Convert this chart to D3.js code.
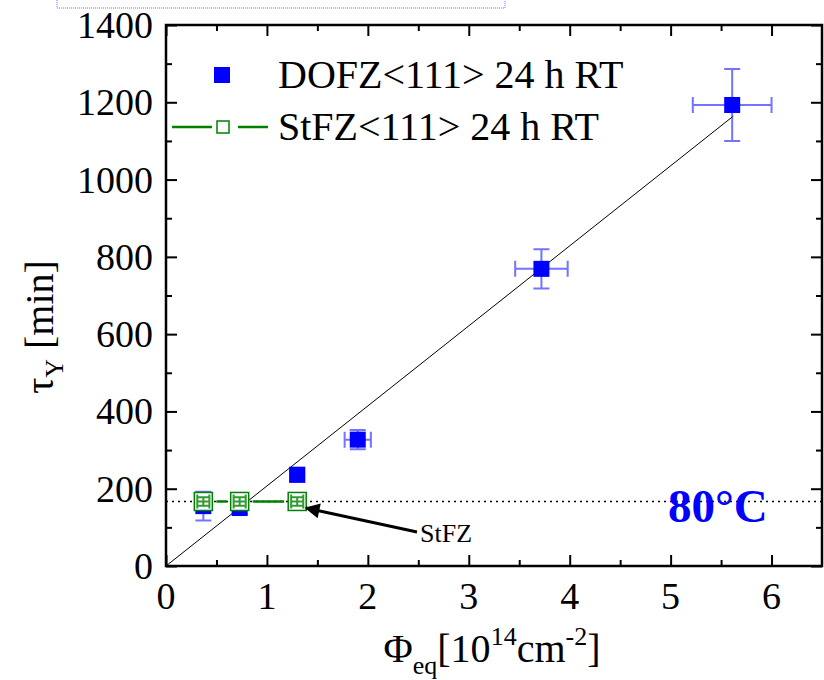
<!DOCTYPE html>
<html>
<head>
<meta charset="utf-8">
<script src="https://cdn.jsdelivr.net/npm/d3@7"></script>
<style>
  html, body { margin: 0; padding: 0; background: #fff; }
  svg { display: block; font-family: "Liberation Serif", "DejaVu Serif", serif; }
</style>
</head>
<body>
<script>
// DOFZ<111> 24 h RT (filled squares)
const dofzX    = [0.37, 0.73, 1.30, 1.90, 3.72, 5.61];
const dofzY    = [155, 150, 236, 327, 769, 1193];
const dofzXErr = [0.05, 0.05, 0.07, 0.13, 0.26, 0.39];
const dofzYErr = [37, 15, 18, 25, 51, 93];

// StFZ<111> 24 h RT (open squares)
const stfzX    = [0.37, 0.73, 1.30];
const stfzY    = [167, 167, 167];
const stfzXErr = [0.06, 0.06, 0.06];
const stfzYErr = [11, 11, 11];

// linear fit through the DOFZ points
const fitX = [0, 5.62];
const fitY = [0, 1164];

const refLevel = 167;   // dotted 80°C level
const xTicks = [0, 1, 2, 3, 4, 5, 6];
const yTicks = [0, 200, 400, 600, 800, 1000, 1200, 1400];

const width = 824, height = 680;
const margins = {left: 166, right: 2, top: 25, bottom: 114};
const blue = '#0000ff', green = '#008000', errBlue = 'rgba(40,40,255,0.65)';

let svg = d3.select('body').append('svg')
    .attr('width', width)
    .attr('height', height);

let xScale = d3.scaleLinear().domain([0, 6.5]).range([margins.left, width - margins.right]);
let yScale = d3.scaleLinear().domain([0, 1400]).range([height - margins.bottom, margins.top]);

// dotted blue box clipped at the top
svg.append('path')
    .attr('d', 'M57,-2 V8 H505 V-2')
    .attr('fill', 'none')
    .attr('stroke', '#7070ff')
    .attr('stroke-width', 1)
    .attr('stroke-dasharray', '1,1');

// axes: ticks inward on all four sides
const x0 = xScale(0), x1 = xScale(6.5), y0 = yScale(0), y1 = yScale(1400);
const minorX = d3.range(0.5, 6.5, 1), minorY = d3.range(100, 1400, 200);

function tickAxis(axis, pos, ticks, len){
    svg.append('g').call(axis.tickValues(ticks).tickSize(len).tickFormat(''))
        .attr('transform', pos)
        .call(g => g.select('.domain').remove())
        .selectAll('line').attr('stroke', '#000').attr('stroke-width', 2);
}
tickAxis(d3.axisTop(xScale), `translate(0,${y0})`, xTicks, 11);
tickAxis(d3.axisTop(xScale), `translate(0,${y0})`, minorX, 6);
tickAxis(d3.axisBottom(xScale), `translate(0,${y1})`, xTicks, 11);
tickAxis(d3.axisBottom(xScale), `translate(0,${y1})`, minorX, 6);
tickAxis(d3.axisRight(yScale), `translate(${x0},0)`, yTicks, 11);
tickAxis(d3.axisRight(yScale), `translate(${x0},0)`, minorY, 6);
tickAxis(d3.axisLeft(yScale), `translate(${x1},0)`, yTicks, 11);
tickAxis(d3.axisLeft(yScale), `translate(${x1},0)`, minorY, 6);

svg.append('rect')
    .attr('x', x0).attr('y', y1)
    .attr('width', x1 - x0).attr('height', y0 - y1)
    .attr('fill', 'none').attr('stroke', '#000').attr('stroke-width', 2.5);

// tick labels
svg.append('g').selectAll('text').data(xTicks).enter().append('text')
    .attr('x', d => xScale(d)).attr('y', y0 + 43)
    .attr('text-anchor', 'middle').attr('font-size', 38)
    .text(d => d);
svg.append('g').selectAll('text').data(yTicks).enter().append('text')
    .attr('x', x0 - 13).attr('y', d => yScale(d) + 13)
    .attr('text-anchor', 'end').attr('font-size', 38)
    .text(d => d);

// axis titles
let xt = svg.append('text').attr('x', 492).attr('y', 662)
    .attr('text-anchor', 'middle').attr('font-size', 40);
xt.append('tspan').text('Φ');
xt.append('tspan').attr('font-size', 26).attr('dy', 12).text('eq');
xt.append('tspan').attr('dy', -12).text('[10');
xt.append('tspan').attr('font-size', 26).attr('dy', -17).text('14');
xt.append('tspan').attr('dy', 17).text('cm');
xt.append('tspan').attr('font-size', 26).attr('dy', -17).text('-2');
xt.append('tspan').attr('dy', 17).text(']');

let yt = svg.append('text')
    .attr('transform', 'translate(53,327) rotate(-90)')
    .attr('text-anchor', 'middle').attr('font-size', 40);
yt.append('tspan').text('τ');
yt.append('tspan').attr('font-size', 26).attr('dy', 10).text('Y');
yt.append('tspan').attr('dy', -10).text(' [min]');

// dotted 80°C level
svg.append('line')
    .attr('x1', x0).attr('x2', x1)
    .attr('y1', yScale(refLevel)).attr('y2', yScale(refLevel))
    .attr('stroke', '#000').attr('stroke-width', 1.5)
    .attr('stroke-dasharray', '2,4');

svg.append('text')
    .attr('x', 668).attr('y', 522)
    .attr('font-size', 47).attr('font-weight', 'bold').attr('fill', blue)
    .text('80°C');

// fit line
svg.append('path')
    .datum(fitX.map((d, i) => [d, fitY[i]]))
    .attr('fill', 'none').attr('stroke', '#000').attr('stroke-width', 1)
    .attr('d', d3.line().x(d => xScale(d[0])).y(d => yScale(d[1])));

function errorBars(xs, ys, xe, ye, color, cap){
    let g = svg.append('g').attr('stroke', color).attr('stroke-width', 2).attr('fill', 'none');
    xs.forEach((x, i) => {
        let cx = xScale(x), cy = yScale(ys[i]);
        let xl = xScale(x - xe[i]), xr = xScale(x + xe[i]);
        let yt2 = yScale(ys[i] + ye[i]), yb = yScale(ys[i] - ye[i]);
        g.append('path').attr('d',
            `M${xl},${cy}H${xr}M${xl},${cy - cap}V${cy + cap}M${xr},${cy - cap}V${cy + cap}` +
            `M${cx},${yt2}V${yb}M${cx - cap},${yt2}H${cx + cap}M${cx - cap},${yb}H${cx + cap}`);
    });
}

// DOFZ
errorBars(dofzX, dofzY, dofzXErr, dofzYErr, errBlue, 8);
svg.append('g').selectAll('rect').data(dofzX).enter().append('rect')
    .attr('x', d => xScale(d) - 8)
    .attr('y', (d, i) => yScale(dofzY[i]) - 8)
    .attr('width', 16).attr('height', 16)
    .attr('fill', blue);

// StFZ connecting line with gaps at markers
const gap = 13;
for(let i = 0; i < stfzX.length - 1; i++){
    svg.append('line')
        .attr('x1', xScale(stfzX[i]) + gap).attr('x2', xScale(stfzX[i + 1]) - gap)
        .attr('y1', yScale(stfzY[i])).attr('y2', yScale(stfzY[i + 1]))
        .attr('stroke', green).attr('stroke-width', 2.5);
}
svg.append('g').selectAll('rect').data(stfzX).enter().append('rect')
    .attr('x', d => xScale(d) - 9)
    .attr('y', (d, i) => yScale(stfzY[i]) - 9)
    .attr('width', 18).attr('height', 18)
    .attr('fill', '#fff').attr('stroke', green).attr('stroke-width', 1.5);
errorBars(stfzX, stfzY, stfzXErr, stfzYErr, 'rgba(0,128,0,0.8)', 7);

// StFZ annotation arrow
svg.append('defs').append('marker')
    .attr('id', 'arr').attr('viewBox', '0 0 10 10')
    .attr('refX', 9).attr('refY', 5)
    .attr('markerWidth', 6).attr('markerHeight', 5)
    .attr('orient', 'auto')
    .append('path').attr('d', 'M0,0L10,5L0,10z').attr('fill', '#000');
svg.append('line')
    .attr('x1', 417).attr('y1', 532).attr('x2', 306).attr('y2', 508)
    .attr('stroke', '#000').attr('stroke-width', 3)
    .attr('marker-end', 'url(#arr)');
svg.append('text')
    .attr('x', 420).attr('y', 542).attr('font-size', 26)
    .text('StFZ');

// legend
let leg = svg.append('g');
leg.append('rect').attr('x', 214).attr('y', 67).attr('width', 16).attr('height', 16).attr('fill', blue);
leg.append('text').attr('x', 278).attr('y', 88).attr('font-size', 40).text('DOFZ<111> 24 h RT');
leg.append('line').attr('x1', 172).attr('x2', 212).attr('y1', 127).attr('y2', 127)
    .attr('stroke', green).attr('stroke-width', 2.5);
leg.append('line').attr('x1', 238).attr('x2', 268).attr('y1', 127).attr('y2', 127)
    .attr('stroke', green).attr('stroke-width', 2.5);
leg.append('rect').attr('x', 217).attr('y', 121).attr('width', 12).attr('height', 12)
    .attr('fill', '#fff').attr('stroke', green).attr('stroke-width', 1.5);
leg.append('text').attr('x', 278).attr('y', 140).attr('font-size', 40).text('StFZ<111> 24 h RT');
</script>
</body>
</html>
